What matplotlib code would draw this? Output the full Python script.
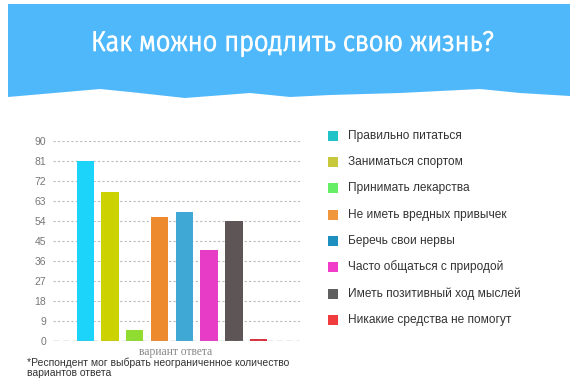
import matplotlib
matplotlib.use("Agg")
import matplotlib.pyplot as plt
from matplotlib.patches import Polygon, Rectangle
from matplotlib import font_manager, patheffects
from matplotlib.font_manager import FontProperties
from matplotlib.ft2font import FT2Font

title = "Как можно продлить свою жизнь?"
categories = [
    "Правильно питаться",
    "Заниматься спортом",
    "Принимать лекарства",
    "Не иметь вредных привычек",
    "Беречь свои нервы",
    "Часто общаться с природой",
    "Иметь позитивный ход мыслей",
    "Никакие средства не помогут",
]
values = [81, 67, 5, 56, 58, 41, 54, 1]
yticks = [0, 9, 18, 27, 36, 45, 54, 63, 72, 81, 90]
xlabel = "вариант ответа"
footnote = "*Респондент мог выбрать неограниченное количество\nвариантов ответа"

bar_colors = ["#1CD4FA", "#CCD200", "#90DC30", "#EE8A2E", "#40A8D4", "#E63CC6", "#5E5656", "#D8303C"]
legend_colors = ["#20C4C8", "#C8C83C", "#66EE66", "#F0963C", "#1E90C0", "#F03CC8", "#606060", "#F03C3C"]

W, H = 580, 382
fig = plt.figure(figsize=(W / 100, H / 100), dpi=100)
fig.patch.set_facecolor("white")


def fx(x):
    return x / W


def fy(y):
    return 1 - y / H


def wnum(w):
    if isinstance(w, int):
        return w
    return font_manager.weight_dict.get(w, 400)


def pick_file(cands):
    fl = font_manager.fontManager.ttflist
    for name, weights in cands:
        for wt in weights:
            for f in fl:
                if f.name == name and f.style == "normal" and wnum(f.weight) == wt:
                    try:
                        cm = FT2Font(f.fname).get_charmap()
                        if all(ord(c) in cm for c in "жКю"):
                            return FontProperties(fname=f.fname)
                    except Exception:
                        pass
    return None


tprop = pick_file([
    ("Open Sans Condensed", [300, 400]),
    ("Fira Sans Condensed", [300, 400]),
    ("Fira Sans Extra Condensed", [300, 400]),
    ("Roboto Condensed", [300, 400]),
    ("PT Sans Narrow", [400]),
    ("Ubuntu Condensed", [400]),
    ("IBM Plex Sans Condensed", [300, 400]),
    ("Encode Sans Condensed", [300, 400]),
    ("Barlow Condensed", [400]),
    ("Archivo Narrow", [400]),
])
if tprop is None:
    tprop = FontProperties(family="DejaVu Sans")
sfam = "Arimo" if any(f.name == "Arimo" for f in font_manager.fontManager.ttflist) else "Liberation Sans"

# banner
pts = [(8, 4), (570, 4), (570, 96), (520, 93), (480, 89), (400, 93), (330, 95),
       (290, 97), (250, 93), (185, 98), (130, 92), (100, 89), (8, 97)]
fig.patches.append(Polygon([(fx(x), fy(y)) for x, y in pts], closed=True,
                           transform=fig.transFigure, facecolor="#4FB8FA",
                           edgecolor="none", zorder=0))

t = fig.text(fx(292), fy(43), title, color="white", fontproperties=tprop,
             ha="center", va="center")
t.set_fontsize(27)
fig.canvas.draw()
bb = t.get_window_extent()
t.set_fontsize(min(27 * 403 / bb.width, 30))
t.set_path_effects([patheffects.withStroke(linewidth=0.7, foreground="white")])

# axes
ax = fig.add_axes([fx(53), fy(341), fx(300) - fx(53), (341 - 141) / H])
x = list(range(len(values)))
ax.bar(x, values, width=0.7, color=bar_colors, zorder=2)
ax.set_xlim(-1.3, 8.67)
ax.set_ylim(0, 90)
ax.set_yticks(yticks)
ax.set_yticklabels([str(v) for v in yticks], fontsize=7.5, color="#777777", family=sfam)
ax.tick_params(axis="y", length=0, pad=5)
ax.set_xticks([])
for s in ax.spines.values():
    s.set_visible(False)
for v in yticks[1:]:
    ax.axhline(v, color="#BBBBBB", lw=0.8, ls=(0, (2, 2)), zorder=1)
ax.axhline(0, color="#999999", lw=1.0, ls=(0, (4, 3)), zorder=3)
ax.patch.set_alpha(0)

fig.text(fx(176), fy(352), xlabel, fontsize=8.4, color="#888888", family="Liberation Serif",
         ha="center", va="center")
fig.text(fx(27), fy(368), footnote, fontsize=7.5, color="#333333", family=sfam,
         ha="left", va="center", linespacing=1.05)

# legend
ys = [136, 162, 188, 215, 241, 267, 294, 320]
for yy, lab, c in zip(ys, categories, legend_colors):
    fig.patches.append(Rectangle((fx(328), fy(yy + 5)), 10 / W, 10 / H,
                                 transform=fig.transFigure, facecolor=c, edgecolor="none"))
    fig.text(fx(348), fy(yy), lab, fontsize=8.55, color="#333333", family=sfam,
             ha="left", va="center")

fig.savefig("out.png", dpi=100)
